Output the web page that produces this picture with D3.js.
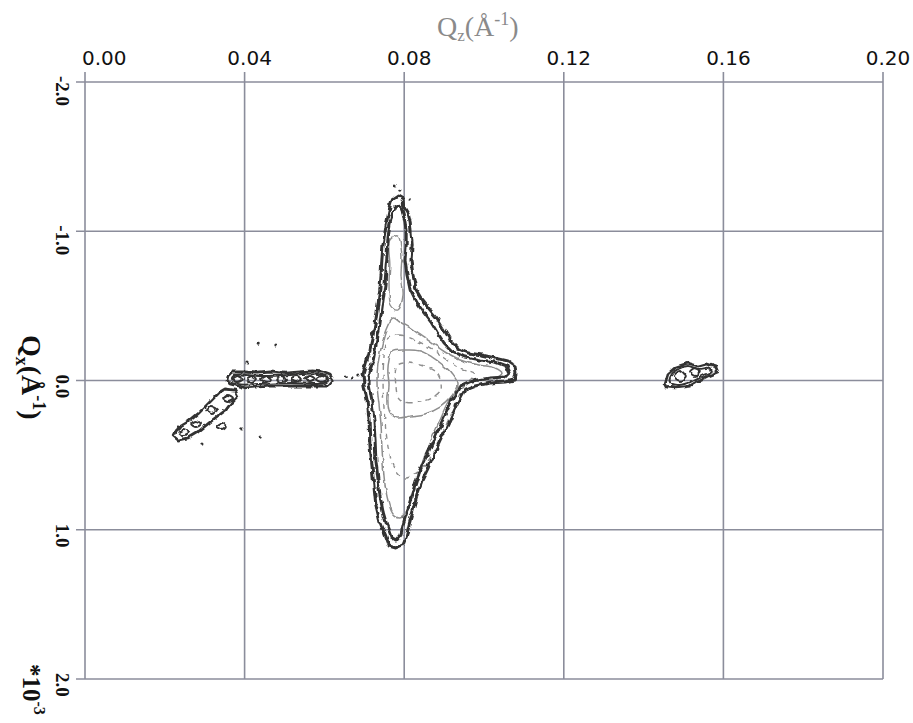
<!DOCTYPE html>
<html>
<head>
<meta charset="utf-8">
<script src="https://cdn.jsdelivr.net/npm/d3@7"></script>
<style>
html,body{margin:0;padding:0;background:#fff;}
svg{display:block;}
</style>
</head>
<body>
<svg id="chart" width="913" height="723"></svg>
<script>
// ---- axis data ----
const xTicks = [0, 0.04, 0.08, 0.12, 0.16, 0.20];
const xTickLabels = ["0.00", "0.04", "0.08", "0.12", "0.16", "0.20"];
const yTicks = [-2, -1, 0, 1, 2];
const yTickLabels = ["-2.0", "-1.0", "0.0", "1.0", "2.0"];

// ---- contour data: [Qz (1/Å), Qx (1e-3 1/Å)] ----
const peakOuter = [[0.0769,-1.209],[0.0784,-1.236],[0.0797,-1.216],[0.0799,-1.162],[0.0810,-1.116],[0.0815,-1.062],[0.0817,-1.002],[0.0820,-0.908],[0.0817,-0.807],[0.0822,-0.707],[0.0830,-0.606],[0.0845,-0.539],[0.0865,-0.472],[0.0882,-0.419],[0.0897,-0.352],[0.0915,-0.271],[0.0935,-0.218],[0.0960,-0.184],[0.0995,-0.171],[0.1028,-0.151],[0.1060,-0.131],[0.1078,-0.097],[0.1080,-0.044],[0.1075,-0.003],[0.1053,0.010],[0.1015,0.017],[0.0977,0.037],[0.0952,0.064],[0.0932,0.164],[0.0915,0.265],[0.0897,0.365],[0.0877,0.479],[0.0860,0.586],[0.0845,0.667],[0.0832,0.767],[0.0822,0.868],[0.0812,0.968],[0.0805,1.049],[0.0797,1.102],[0.0779,1.122],[0.0762,1.109],[0.0752,1.035],[0.0739,0.948],[0.0729,0.834],[0.0724,0.700],[0.0719,0.566],[0.0714,0.432],[0.0712,0.265],[0.0707,0.131],[0.0699,0.030],[0.0697,-0.037],[0.0704,-0.104],[0.0714,-0.204],[0.0722,-0.305],[0.0729,-0.405],[0.0734,-0.506],[0.0739,-0.606],[0.0742,-0.707],[0.0744,-0.807],[0.0747,-0.908],[0.0752,-0.995],[0.0757,-1.075],[0.0762,-1.142]];
const peakOuter2 = [[0.0777,-1.156],[0.0789,-1.176],[0.0797,-1.122],[0.0802,-1.062],[0.0805,-0.995],[0.0805,-0.908],[0.0802,-0.807],[0.0807,-0.707],[0.0815,-0.606],[0.0830,-0.526],[0.0850,-0.452],[0.0867,-0.392],[0.0882,-0.325],[0.0900,-0.251],[0.0920,-0.198],[0.0952,-0.157],[0.0990,-0.137],[0.1028,-0.124],[0.1055,-0.097],[0.1063,-0.050],[0.1053,-0.023],[0.1015,-0.017],[0.0970,0.003],[0.0940,0.037],[0.0920,0.131],[0.0902,0.231],[0.0885,0.332],[0.0865,0.452],[0.0847,0.559],[0.0832,0.653],[0.0820,0.760],[0.0810,0.854],[0.0799,0.948],[0.0792,1.028],[0.0779,1.069],[0.0767,1.049],[0.0757,0.975],[0.0747,0.881],[0.0739,0.767],[0.0734,0.653],[0.0729,0.533],[0.0727,0.399],[0.0724,0.265],[0.0719,0.131],[0.0712,0.030],[0.0712,-0.057],[0.0722,-0.137],[0.0729,-0.238],[0.0737,-0.338],[0.0742,-0.439],[0.0747,-0.539],[0.0752,-0.640],[0.0754,-0.740],[0.0757,-0.841],[0.0759,-0.941],[0.0764,-1.042],[0.0769,-1.109]];
const peakMid = [[0.0772,-0.419],[0.0789,-0.392],[0.0815,-0.352],[0.0840,-0.305],[0.0870,-0.251],[0.0902,-0.191],[0.0940,-0.137],[0.0985,-0.104],[0.1028,-0.084],[0.1045,-0.050],[0.1035,-0.017],[0.0990,-0.003],[0.0952,0.023],[0.0927,0.077],[0.0907,0.164],[0.0890,0.265],[0.0870,0.385],[0.0852,0.499],[0.0840,0.600],[0.0827,0.700],[0.0817,0.801],[0.0807,0.881],[0.0789,0.921],[0.0772,0.894],[0.0759,0.801],[0.0752,0.700],[0.0747,0.566],[0.0744,0.432],[0.0742,0.298],[0.0737,0.164],[0.0732,0.030],[0.0734,-0.104],[0.0744,-0.238],[0.0754,-0.338]];
const peakMidDash = [[0.0757,-0.285],[0.0789,-0.305],[0.0827,-0.271],[0.0865,-0.218],[0.0902,-0.151],[0.0940,-0.084],[0.0977,-0.044],[0.0960,0.010],[0.0940,0.077],[0.0920,0.198],[0.0900,0.332],[0.0870,0.499],[0.0840,0.600],[0.0802,0.653],[0.0777,0.600],[0.0764,0.499],[0.0754,0.332],[0.0749,0.164],[0.0747,-0.003],[0.0749,-0.137]];
const peakInner = [[0.0769,-0.191],[0.0802,-0.204],[0.0840,-0.198],[0.0870,-0.157],[0.0897,-0.104],[0.0920,-0.044],[0.0935,0.030],[0.0915,0.117],[0.0890,0.178],[0.0852,0.224],[0.0815,0.238],[0.0784,0.251],[0.0764,0.211],[0.0759,0.131],[0.0762,0.030],[0.0759,-0.070],[0.0762,-0.137]];
const peakInnerDash = [[0.0784,-0.104],[0.0840,-0.104],[0.0885,-0.037],[0.0890,0.077],[0.0840,0.144],[0.0789,0.131],[0.0779,0.030]];
const spikeInner = [[0.0764,-0.941],[0.0784,-0.968],[0.0794,-0.841],[0.0792,-0.707],[0.0797,-0.573],[0.0784,-0.472],[0.0767,-0.506],[0.0762,-0.640],[0.0764,-0.774]];

const streakOuter = [[0.0358,-0.030],[0.0368,-0.057],[0.0401,-0.057],[0.0434,-0.050],[0.0464,-0.057],[0.0501,-0.050],[0.0539,-0.057],[0.0569,-0.064],[0.0594,-0.057],[0.0614,-0.037],[0.0622,-0.003],[0.0609,0.037],[0.0576,0.037],[0.0539,0.037],[0.0501,0.037],[0.0464,0.037],[0.0426,0.044],[0.0401,0.050],[0.0383,0.037],[0.0363,0.023],[0.0356,-0.003]];
const streakOuter2 = [[0.0368,-0.010],[0.0378,-0.037],[0.0439,-0.030],[0.0514,-0.037],[0.0584,-0.044],[0.0609,-0.017],[0.0599,0.017],[0.0514,0.017],[0.0439,0.023],[0.0383,0.023]];
const streakLoops = [
  [[0.0371,-0.010],[0.0383,-0.030],[0.0396,-0.010],[0.0383,0.010]],
  [[0.0406,-0.010],[0.0419,-0.030],[0.0431,-0.010],[0.0419,0.010]],
  [[0.0441,-0.010],[0.0454,-0.030],[0.0466,-0.010],[0.0454,0.010]],
  [[0.0479,-0.010],[0.0491,-0.030],[0.0504,-0.010],[0.0491,0.010]],
  [[0.0516,-0.010],[0.0529,-0.030],[0.0541,-0.010],[0.0529,0.010]],
  [[0.0551,-0.010],[0.0564,-0.030],[0.0576,-0.010],[0.0564,0.010]],
  [[0.0581,-0.010],[0.0594,-0.030],[0.0607,-0.010],[0.0594,0.010]]
];
const diagOuter = [[0.0351,0.057],[0.0376,0.064],[0.0383,0.104],[0.0368,0.144],[0.0353,0.198],[0.0333,0.238],[0.0308,0.291],[0.0283,0.345],[0.0258,0.385],[0.0233,0.399],[0.0221,0.372],[0.0233,0.318],[0.0258,0.278],[0.0283,0.224],[0.0303,0.171],[0.0323,0.117],[0.0338,0.077]];
const diagLoops = [
  [[0.0346,0.117],[0.0358,0.097],[0.0371,0.117],[0.0358,0.137]],
  [[0.0306,0.198],[0.0318,0.178],[0.0331,0.198],[0.0318,0.218]],
  [[0.0266,0.291],[0.0278,0.271],[0.0291,0.291],[0.0278,0.312]],
  [[0.0236,0.345],[0.0248,0.325],[0.0261,0.345],[0.0248,0.365]],
  [[0.0331,0.305],[0.0343,0.285],[0.0353,0.305],[0.0343,0.325]]
];
const satOuter = [[0.1454,0.017],[0.1461,-0.044],[0.1481,-0.090],[0.1511,-0.117],[0.1536,-0.097],[0.1556,-0.111],[0.1581,-0.090],[0.1586,-0.057],[0.1561,-0.030],[0.1541,-0.003],[0.1516,0.037],[0.1481,0.050],[0.1459,0.044]];
const satOuter2 = [[0.1466,0.010],[0.1471,-0.044],[0.1486,-0.077],[0.1511,-0.097],[0.1536,-0.077],[0.1561,-0.084],[0.1571,-0.064],[0.1551,-0.037],[0.1531,-0.010],[0.1511,0.017],[0.1484,0.030]];
const satLoops = [
  [[0.1476,-0.030],[0.1491,-0.064],[0.1506,-0.030],[0.1491,0.003]],
  [[0.1516,-0.057],[0.1529,-0.084],[0.1541,-0.057],[0.1529,-0.030]]
];
const specks = [[0.0434,-0.251],[0.0476,-0.238],[0.0406,-0.124],[0.0393,0.318],[0.0439,0.379],[0.0293,0.419],[0.0789,-1.276],[0.0815,-1.209],[0.0777,-1.310],[0.0652,-0.023],[0.0669,-0.017],[0.0684,-0.030]];

// ---- drawing ----
const svg = d3.select("#chart");
const x = d3.scaleLinear().domain([0, 0.2]).range([85, 883]);
const y = d3.scaleLinear().domain([-2, 2]).range([82, 679]);

// roughness filter for plotter-like noisy contours
const defs = svg.append("defs");
function roughFilter(id, freq, scale, seed) {
  const f = defs.append("filter").attr("id", id)
    .attr("filterUnits", "userSpaceOnUse")
    .attr("x", 0).attr("y", 0).attr("width", 913).attr("height", 723);
  f.append("feTurbulence").attr("type", "fractalNoise")
    .attr("baseFrequency", freq).attr("numOctaves", 2).attr("seed", seed).attr("result", "n");
  f.append("feDisplacementMap").attr("in", "SourceGraphic").attr("in2", "n")
    .attr("scale", scale).attr("xChannelSelector", "R").attr("yChannelSelector", "G");
}
roughFilter("roughDark", 0.13, 5, 4);
roughFilter("roughLight", 0.1, 4, 9);

const gridColor = "#8b8d9b";
const grid = svg.append("g");
grid.selectAll("line.v").data(xTicks).join("line")
  .attr("x1", d => x(d)).attr("x2", d => x(d))
  .attr("y1", y(-2) - 10).attr("y2", y(2))
  .attr("stroke", gridColor).attr("stroke-width", 1.6);
grid.selectAll("line.h").data(yTicks).join("line")
  .attr("y1", d => y(d)).attr("y2", d => y(d))
  .attr("x1", x(0) - 9).attr("x2", x(0.2))
  .attr("stroke", gridColor).attr("stroke-width", 1.6);

// tick labels
svg.append("g").selectAll("text").data(xTicks).join("text")
  .attr("x", (d, i) => i === 0 ? x(d) - 3 : x(d) + 5)
  .attr("y", 65)
  .attr("text-anchor", (d, i) => i === 0 ? "start" : "middle")
  .attr("font-family", "DejaVu Sans, sans-serif")
  .attr("font-size", 20)
  .attr("fill", "#111")
  .text((d, i) => xTickLabels[i]);

svg.append("g").selectAll("text").data(yTicks).join("text")
  .attr("transform", d => `translate(56,${y(d) - 6}) rotate(90)`)
  .attr("text-anchor", "start")
  .attr("font-family", "Liberation Serif, serif")
  .attr("font-weight", "bold")
  .attr("font-size", 19)
  .attr("fill", "#111")
  .text((d, i) => yTickLabels[i]);

// axis titles
const tz = svg.append("text")
  .attr("x", 437).attr("y", 36)
  .attr("font-family", "Liberation Serif, serif")
  .attr("font-size", 28).attr("fill", "#8a8a8a");
tz.append("tspan").text("Q");
tz.append("tspan").attr("font-size", 17).attr("dy", 5).text("z");
tz.append("tspan").attr("dy", -5).text("(Å");
tz.append("tspan").attr("font-size", 18).attr("dy", -11).text("-1");
tz.append("tspan").attr("dy", 11).text(")");

const tx = svg.append("text")
  .attr("transform", "translate(22,335) rotate(90)")
  .attr("font-family", "Liberation Serif, serif")
  .attr("font-weight", "bold")
  .attr("font-size", 28).attr("fill", "#111");
tx.append("tspan").text("Q");
tx.append("tspan").attr("font-size", 18).attr("dy", 6).text("x");
tx.append("tspan").attr("dy", -6).text("(Å");
tx.append("tspan").attr("font-size", 18).attr("dy", -11).text("-1");
tx.append("tspan").attr("dy", 11).text(")");

const te = svg.append("text")
  .attr("transform", "translate(23,664) rotate(90)")
  .attr("font-family", "Liberation Serif, serif")
  .attr("font-weight", "bold")
  .attr("font-size", 25).attr("fill", "#111");
te.append("tspan").text("*10");
te.append("tspan").attr("font-size", 16).attr("dy", -11).text("-3");

// contours
const lineLin = d3.line().x(d => x(d[0])).y(d => y(d[1])).curve(d3.curveLinearClosed);
const lineSmooth = d3.line().x(d => x(d[0])).y(d => y(d[1])).curve(d3.curveCatmullRomClosed.alpha(0.5));
const loopCurve = d3.line().x(d => x(d[0])).y(d => y(d[1])).curve(d3.curveCardinalClosed.tension(0.1));

const dark = "#333333", mid = "#8e8e8e";
const lightG = svg.append("g").attr("fill", "none").attr("stroke-linejoin", "round").attr("filter", "url(#roughLight)");
const darkG = svg.append("g").attr("fill", "none").attr("stroke-linejoin", "round").attr("filter", "url(#roughDark)");

function draw(g, shapes, gen, stroke, width, dash) {
  g.append("g").selectAll("path").data(shapes).join("path")
    .attr("d", gen).attr("stroke", stroke).attr("stroke-width", width)
    .attr("stroke-dasharray", dash || null);
}
draw(lightG, [peakMid], lineSmooth, mid, 1.5);
draw(lightG, [peakMidDash], lineSmooth, mid, 1.4, "5,5");
draw(lightG, [peakInner], lineSmooth, mid, 1.5);
draw(lightG, [peakInnerDash], lineSmooth, mid, 1.4, "5,5");
draw(lightG, [spikeInner], lineSmooth, mid, 1.4);
draw(darkG, [peakOuter, peakOuter2], lineLin, dark, 3);
draw(darkG, [streakOuter, diagOuter, satOuter], lineLin, dark, 2.8);
draw(darkG, [streakOuter2, satOuter2], lineSmooth, dark, 2);
draw(darkG, streakLoops.concat(diagLoops, satLoops), loopCurve, dark, 2);

darkG.append("g").selectAll("circle").data(specks).join("circle")
  .attr("cx", d => x(d[0])).attr("cy", d => y(d[1])).attr("r", 1.6)
  .attr("fill", dark).attr("stroke", "none");
</script>
</body>
</html>
